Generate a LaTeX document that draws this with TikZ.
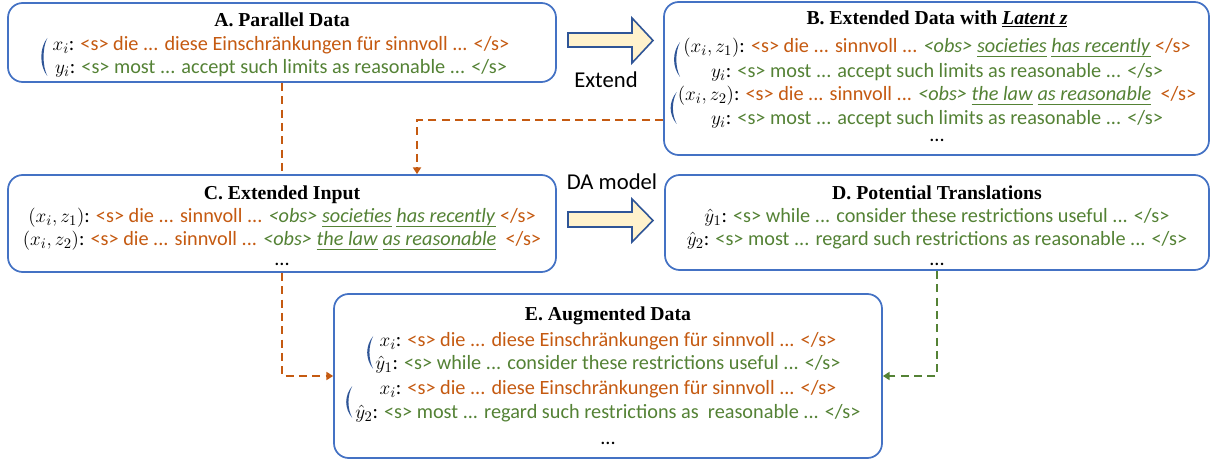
\documentclass[tikz,border=0pt]{standalone}
\usepackage{fontspec}
\setmainfont{Carlito}
\newfontfamily\titlefont{Liberation Serif}
\usetikzlibrary{arrows.meta,fit,calc}
\definecolor{orng}{HTML}{C55A11}
\definecolor{grn}{HTML}{548235}
\definecolor{boxblue}{HTML}{4472C4}
\definecolor{darkblue}{HTML}{2F5597}
\definecolor{arrowfill}{HTML}{FFF2CC}
\newcommand{\ob}[1]{\textcolor{orng}{#1}}
\newcommand{\gr}[1]{\textcolor{grn}{#1}}
\newsavebox{\ulibox}
\newcommand{\uli}[1]{\sbox{\ulibox}{\textit{#1}}\leavevmode\rlap{\rule[-3.4pt]{\wd\ulibox}{0.9pt}}\usebox{\ulibox}}
\newcommand{\bparen}[4]{%
  \coordinate (parT) at ($(#1.west |- 0,#3)+(-#2,0)$);
  \coordinate (parB) at ($(#1.west |- 0,#4)+(-#2,0)$);
  \fill[darkblue] (parT) .. controls ($(parT)+(-8,10)$) and ($(parB)+(-8,-10)$) .. (parB)
     .. controls ($(parB)+(-5,-10)$) and ($(parT)+(-5,10)$) .. (parT) -- cycle;
}
\tikzset{
  box/.style={draw=boxblue, line width=1.3pt, rounded corners=11pt, inner sep=0pt, fill=white},
  txt/.style={inner sep=0pt, font=\fontsize{15.2}{18}\selectfont},
  ttl/.style={inner sep=0pt, font=\titlefont\bfseries\fontsize{14.8}{17}\selectfont},
  lbl/.style={inner sep=0pt, font=\fontsize{17}{20}\selectfont},
  oconn/.style={draw=orng, line width=1.4pt, dash pattern=on 6pt off 4pt},
  gconn/.style={draw=grn, line width=1.4pt, dash pattern=on 6pt off 4pt},
  tip/.style={-{Triangle[length=5pt,width=6pt]}},
  bigarrow/.style={draw=darkblue, line width=1.2pt, fill=arrowfill, line join=miter}
}
\begin{document}
\begin{tikzpicture}[x=0.75pt,y=-0.75pt]
\useasboundingbox (0,0) rectangle (1214,463);

% boxes
\node[box, fit={(8,3)(556,82)}] (A) {};
\node[box, fit={(664,2)(1209,155)}] (B) {};
\node[box, fit={(8,175)(556,272)}] (C) {};
\node[box, fit={(665,175)(1209,270)}] (D) {};
\node[box, fit={(334,294)(882,458)}] (E) {};

% A
\node[ttl] (a0) at (282,20) {A. Parallel Data};
\node[txt] (a1) at (281,45) {$x_i$: \ob{<s> die ... diese Einschränkungen für sinnvoll ... </s>}};
\node[txt] (a2) at (281,68) {$y_i$: \gr{<s> most ... accept such limits as reasonable ... </s>}};
\bparen{a1}{5}{38}{76}

% B
\node[ttl] (b0) at (937,19) {B. Extended Data with \underline{\textit{Latent z}}};
\node[txt] (b1) at (937,48) {$(x_i,z_1)$: \ob{<s> die ... sinnvoll ...} \gr{\textit{<obs>} \uli{societies} \uli{has recently}} \ob{</s>}};
\node[txt] (b2) at (937,72) {$y_i$: \gr{<s> most ... accept such limits as reasonable ... </s>}};
\node[txt] (b3) at (937,96) {$(x_i,z_2)$: \ob{<s> die ... sinnvoll ...} \gr{\textit{<obs>} \uli{the law} \uli{as reasonable}}\ \ \ob{</s>}};
\node[txt] (b4) at (937,119) {$y_i$: \gr{<s> most ... accept such limits as reasonable ... </s>}};
\node[txt] (b5) at (937,140) {...};
\bparen{b1}{3}{42}{77}
\bparen{b3}{1}{92}{124}

% C
\node[ttl] (c0) at (282,195) {C. Extended Input};
\node[txt] (c1) at (282,218) {$(x_i,z_1)$: \ob{<s> die ... sinnvoll ...} \gr{\textit{<obs>} \uli{societies} \uli{has recently}} \ob{</s>}};
\node[txt] (c2) at (282,241) {$(x_i,z_2)$: \ob{<s> die ... sinnvoll ...} \gr{\textit{<obs>} \uli{the law} \uli{as reasonable}}\ \ \ob{</s>}};
\node[txt] (c3) at (282,264) {...};

% D
\node[ttl] (d0) at (937,193) {D. Potential Translations};
\node[txt] (d1) at (937,217) {$\hat{y}_1$: \gr{<s> while ... consider these restrictions useful ... </s>}};
\node[txt] (d2) at (937,240) {$\hat{y}_2$: \gr{<s> most ... regard such restrictions as reasonable ... </s>}};
\node[txt] (d3) at (937,264) {...};

% E
\node[ttl] (e0) at (608,316) {E. Augmented Data};
\node[txt] (e1) at (608,341) {$x_i$: \ob{<s> die ... diese Einschränkungen für sinnvoll ... </s>}};
\node[txt] (e2) at (608,364) {$\hat{y}_1$: \gr{<s> while ... consider these restrictions useful ... </s>}};
\node[txt] (e3) at (608,389) {$x_i$: \ob{<s> die ... diese Einschränkungen für sinnvoll ... </s>}};
\node[txt] (e4) at (608,413) {$\hat{y}_2$: \gr{<s> most ... regard such restrictions as\ \ reasonable ... </s>}};
\node[txt] (e5) at (608,443) {...};
\bparen{e2}{2}{336}{369}
\bparen{e4}{3}{386}{418}

% big arrows
\draw[bigarrow] (568,33) -- (632,33) -- (632,18) -- (653,40.5) -- (632,63) -- (632,47) -- (568,47) -- cycle;
\node[lbl] (ext) at (606,80) {Extend};
\draw[bigarrow] (568,212) -- (632,212) -- (632,199) -- (653,220.5) -- (632,242) -- (632,227) -- (568,227) -- cycle;
\node[lbl] (da) at (612,182) {DA model};

% connectors
\coordinate (bend) at (417,120);
\draw[oconn] (A.south) -- (A.south |- C.north);
\draw[oconn, tip] (B.west |- bend) -| (C.north -| bend);
\draw[oconn, tip] (C.south) |- (E.west);
\draw[gconn, tip] (D.south) |- (E.east);
\end{tikzpicture}
\end{document}
